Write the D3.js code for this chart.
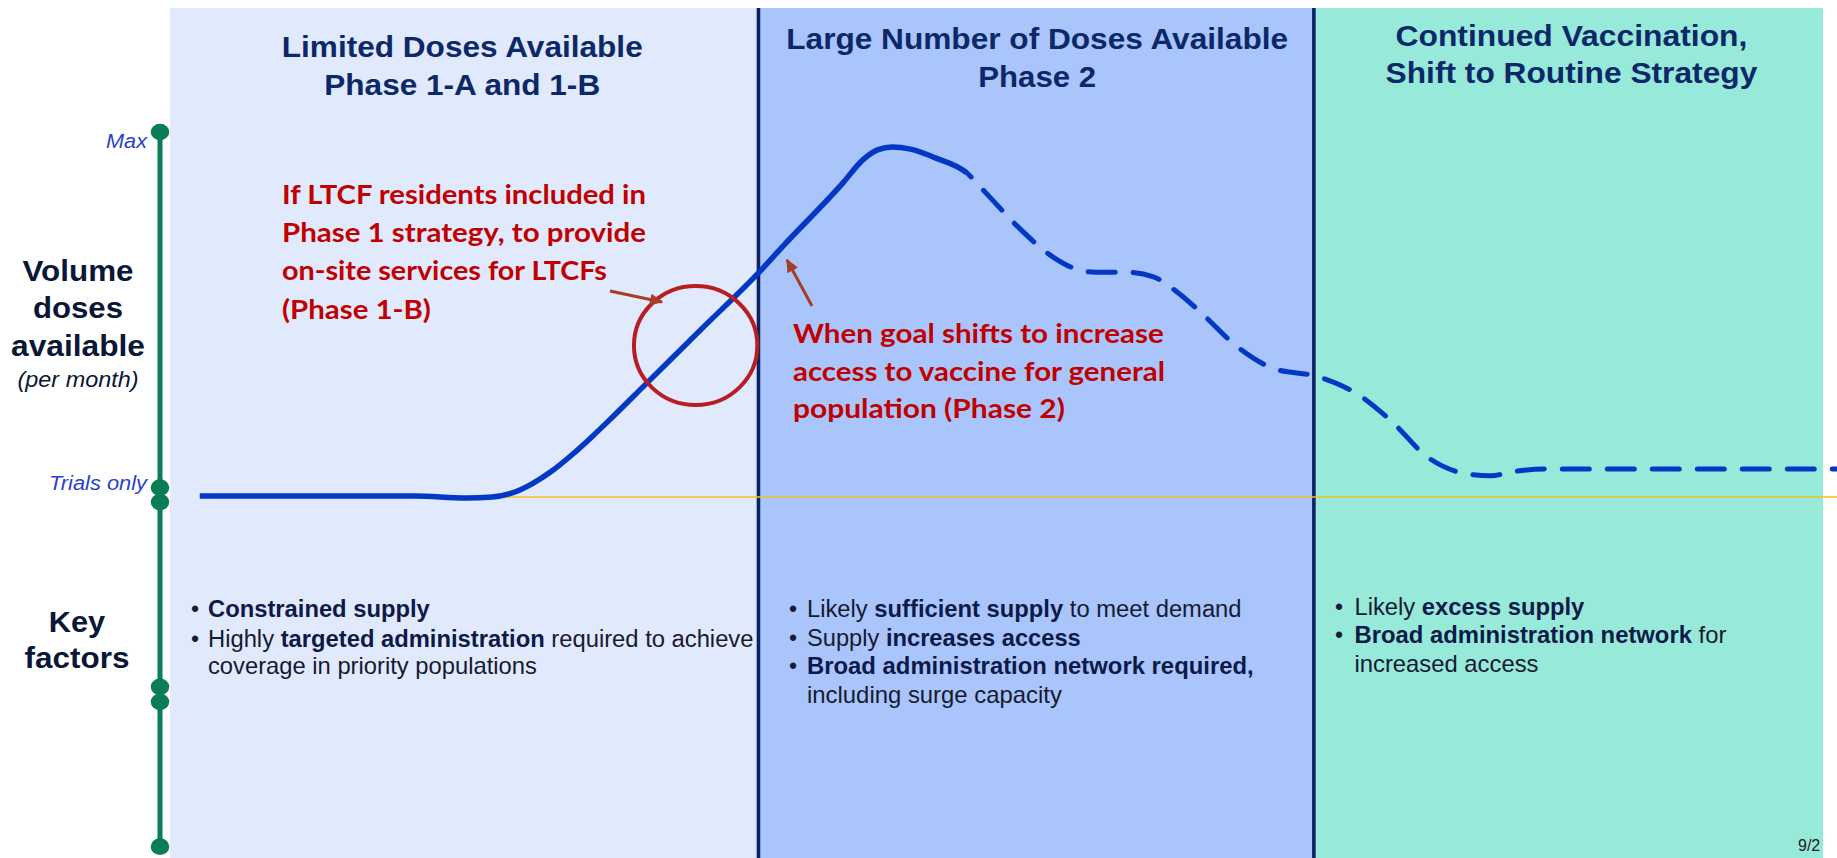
<!DOCTYPE html>
<html>
<head>
<meta charset="utf-8">
<script src="https://cdn.jsdelivr.net/npm/d3@7"></script>
<style>
html,body{margin:0;padding:0;background:#ffffff;overflow:hidden}
svg{display:block}
</style>
</head>
<body>
<svg id="chart" width="1837" height="858"></svg>
<script>
// ---------------- data ----------------
const phaseStarts = [0, 35.6, 69.2];
const phaseEnds   = [35.6, 69.2, 100];
const phaseTitleLine1 = ["Limited Doses Available", "Large Number of Doses Available", "Continued Vaccination,"];
const phaseTitleLine2 = ["Phase 1-A and 1-B", "Phase 2", "Shift to Routine Strategy"];

const yTickValues = [100, 0];
const yTickLabels = ["Max", "Trials only"];
const axisMarkerValues = [100, 2.6, -1.4, -52, -56.1, -95.8];

const curveTime   = [1.8, 14.8, 17.9, 19.5, 20.7, 21.9, 23.1, 24.3, 25.5, 26.7, 28.6, 32.1, 35.6, 37.1, 40.7, 41.9, 42.8, 43.7, 44.8, 46.3, 48.2,
                     49.3, 51.3, 53.4, 54.5, 56.0, 57.8, 59.5, 61.0, 62.4, 64.5, 66.7, 69.5, 71.9, 74.0, 76.0, 78.5, 79.9, 81.2, 83.2, 92.6, 101.3];
const curveVolume = [0.3, 0.3, -0.3, 0.0, 1.1, 3.6, 7.1, 11.5, 16.4, 21.6, 30.1, 45.8, 61.4, 68.8, 86.0, 92.3, 95.1, 95.9, 95.3, 92.9, 88.8,
                     83.6, 74.0, 65.8, 63.0, 61.6, 61.6, 60.3, 55.9, 50.4, 41.4, 35.3, 32.9, 28.0, 20.3, 11.2, 6.3, 5.8, 6.9, 7.7, 7.7, 7.7];
const solidUntilTime = 48.2;

const highlightTime = 31.8;
const highlightVolume = 41.5;

const leftLabelLines = ["Volume", "doses", "available", "(per month)"];
const keyLabelLines = ["Key", "factors"];

const note1Lines = ["If LTCF residents included in", "Phase 1 strategy, to provide", "on-site services for LTCFs", "(Phase 1-B)"];
const note2Lines = ["When goal shifts to increase", "access to vaccine for general", "population (Phase 2)"];

// bullet lines: [bulletShown, [[text, isBold], ...]]
const phase1Factors = [
  [true,  [["Constrained supply", 1]]],
  [true,  [["Highly ", 0], ["targeted administration", 1], [" required to achieve", 0]]],
  [false, [["coverage in priority populations", 0]]]
];
const phase2Factors = [
  [true,  [["Likely ", 0], ["sufficient supply", 1], [" to meet demand", 0]]],
  [true,  [["Supply ", 0], ["increases access", 1]]],
  [true,  [["Broad administration network required,", 1]]],
  [false, [["including surge capacity", 0]]]
];
const phase3Factors = [
  [true,  [["Likely ", 0], ["excess supply", 1]]],
  [true,  [["Broad administration network", 1], [" for", 0]]],
  [false, [["increased access", 0]]]
];
const pageLabel = "9/2";

// ---------------- layout / style ----------------
const W = 1837, H = 858, TOP = 8;
const panelColors = ["#E1E9FC", "#A9C5FC", "#97E9DA"];
const navy = "#0c2868";
const curveBlue = "#0238c4";
const green = "#0a7d55";
const red = "#c00000";
const arrowRed = "#a63d24";

const svg = d3.select("#chart");
const x = d3.scaleLinear().domain([0, 100]).range([170, 1823]);
const y = d3.scaleLinear().domain([0, 100]).range([497, 132]);

function fit(sel, target, ax) {
  sel.each(function () {
    const w = this.getComputedTextLength();
    if (w > 0) {
      const k = target / w;
      d3.select(this).attr("transform", `translate(${ax},0) scale(${k},1) translate(${-ax},0)`);
    }
  });
}

function draw() {
  const defs = svg.append("defs");
  defs.append("marker").attr("id", "arrowHead")
    .attr("viewBox", "0 0 10 10").attr("refX", 9).attr("refY", 5)
    .attr("markerWidth", 5).attr("markerHeight", 4.4).attr("orient", "auto")
    .attr("markerUnits", "strokeWidth")
    .append("path").attr("d", "M0,0.5 L10,5 L0,9.5 Z").attr("fill", arrowRed);
  defs.append("clipPath").attr("id", "dashClip")
    .append("rect").attr("x", x(solidUntilTime) - 1).attr("y", 0).attr("width", W).attr("height", H);

  // phase panels
  svg.append("g").selectAll("rect").data(phaseStarts).join("rect")
    .attr("x", d => x(d)).attr("y", TOP)
    .attr("width", (d, i) => x(phaseEnds[i]) - x(d)).attr("height", H - TOP)
    .attr("fill", (d, i) => panelColors[i]);

  // dividers
  svg.append("g").selectAll("line").data(phaseStarts.slice(1)).join("line")
    .attr("x1", d => x(d)).attr("x2", d => x(d)).attr("y1", TOP).attr("y2", H)
    .attr("stroke", "#0a2462").attr("stroke-width", 3.6);

  // phase titles
  const titleY1 = [57, 49, 46], titleY2 = [95, 87, 83];
  const titleW1 = [361, 502, 352], titleW2 = [276, 118, 372];
  const titleDx = [-2, 1, 3];
  const tg = svg.append("g").attr("font-family", "'Liberation Sans', Arial, sans-serif")
    .attr("font-weight", "bold").attr("font-size", 30).attr("fill", navy).attr("text-anchor", "middle");
  phaseStarts.forEach((s, i) => {
    const cx = (x(s) + x(phaseEnds[i])) / 2 + titleDx[i];
    fit(tg.append("text").attr("x", cx).attr("y", titleY1[i]).text(phaseTitleLine1[i]), titleW1[i], cx);
    fit(tg.append("text").attr("x", cx).attr("y", titleY2[i]).text(phaseTitleLine2[i]), titleW2[i], cx);
  });

  // trials-only baseline (yellow)
  svg.append("line").attr("x1", 200).attr("x2", W).attr("y1", y(0)).attr("y2", y(0))
    .attr("stroke", "#f2c11f").attr("stroke-width", 1.6);

  // green axis
  const ag = svg.append("g");
  ag.append("line").attr("x1", 160).attr("x2", 160)
    .attr("y1", y(axisMarkerValues[0])).attr("y2", y(axisMarkerValues[axisMarkerValues.length - 1]))
    .attr("stroke", green).attr("stroke-width", 5);
  ag.selectAll("ellipse").data(axisMarkerValues).join("ellipse")
    .attr("cx", 160).attr("cy", d => y(d)).attr("rx", 9.3).attr("ry", 8.3).attr("fill", green);

  // tick labels
  const tickDy = [16, -7], tickW = [41, 98];
  svg.append("g").selectAll("text").data(yTickValues).join("text")
    .attr("x", 147).attr("y", (d, i) => y(d) + tickDy[i])
    .attr("text-anchor", "end").attr("font-family", "'Liberation Sans', Arial, sans-serif")
    .attr("font-style", "italic").attr("font-size", 20).attr("fill", "#2b43c6")
    .text((d, i) => yTickLabels[i])
    .each(function (d, i) { fit(d3.select(this), tickW[i], 147); });

  // left labels
  const lg = svg.append("g").attr("font-family", "'Liberation Sans', Arial, sans-serif")
    .attr("fill", "#0b1736").attr("text-anchor", "middle");
  const leftY = [280.7, 317.7, 356, 386.7];
  const leftW = [111, 90, 134, 121];
  leftLabelLines.forEach((t, i) => {
    const el = lg.append("text").attr("x", 78).attr("y", leftY[i]).text(t)
      .attr("font-size", i < 3 ? 30 : 22).attr("font-weight", i < 3 ? "bold" : "normal")
      .attr("font-style", i < 3 ? "normal" : "italic");
    fit(el, leftW[i], 78);
  });
  const keyY = [631.7, 668.3], keyW = [56.5, 105];
  keyLabelLines.forEach((t, i) => {
    const el = lg.append("text").attr("x", 77).attr("y", keyY[i]).text(t)
      .attr("font-size", 30).attr("font-weight", "bold");
    fit(el, keyW[i], 77);
  });

  // curve
  const pts = curveTime.map((t, i) => [x(t), y(curveVolume[i])]);
  const lineGen = d3.line().curve(d3.curveMonotoneX);
  const dStr = lineGen(pts);
  const cg = svg.append("g").attr("fill", "none").attr("stroke", curveBlue);
  const dashed = cg.append("path").attr("d", dStr).attr("stroke-width", 5)
    .attr("stroke-linecap", "round").attr("clip-path", "url(#dashClip)");
  const solid = cg.append("path").attr("d", dStr).attr("stroke-width", 5.5).attr("stroke-linecap", "butt");
  const node = solid.node();
  const total = node.getTotalLength();
  const xs = x(solidUntilTime);
  let lo = 0, hi = total;
  for (let k = 0; k < 40; k++) {
    const mid = (lo + hi) / 2;
    if (node.getPointAtLength(mid).x < xs) lo = mid; else hi = mid;
  }
  const L1 = lo;
  solid.attr("stroke-dasharray", `${L1} ${total + 50}`);
  const off = (((27 - L1 - 6) % 45) + 45) % 45;
  dashed.attr("stroke-dasharray", "27 18").attr("stroke-dashoffset", off);

  // highlight ellipse
  svg.append("ellipse").attr("cx", x(highlightTime)).attr("cy", y(highlightVolume))
    .attr("rx", 61.7).attr("ry", 59.5).attr("fill", "none")
    .attr("stroke", "#b81d24").attr("stroke-width", 4);

  // arrows
  const arrows = [[610, 291, 662, 302], [812, 306, 787, 260]];
  svg.append("g").selectAll("line").data(arrows).join("line")
    .attr("x1", d => d[0]).attr("y1", d => d[1]).attr("x2", d => d[2]).attr("y2", d => d[3])
    .attr("stroke", arrowRed).attr("stroke-width", 3).attr("marker-end", "url(#arrowHead)");

  // red notes
  const ng = svg.append("g").attr("font-family", "Lato, 'Open Sans', sans-serif")
    .attr("font-weight", "bold").attr("font-size", 27).attr("fill", red);
  const n1Y = [204, 242, 280, 319], n1W = [364, 364, 325, 149];
  note1Lines.forEach((t, i) => fit(ng.append("text").attr("x", 282).attr("y", n1Y[i]).text(t), n1W[i], 282));
  const n2Y = [343, 381.5, 418.5], n2W = [371, 372, 272];
  note2Lines.forEach((t, i) => fit(ng.append("text").attr("x", 793).attr("y", n2Y[i]).text(t), n2W[i], 793));

  // key factor bullets
  const bg = svg.append("g").attr("font-family", "'Liberation Sans', Arial, sans-serif").attr("font-size", 23);
  function bullets(list, bx, tx, ys, ws) {
    list.forEach((row, i) => {
      if (row[0]) bg.append("text").attr("x", bx).attr("y", ys[i]).attr("text-anchor", "middle")
        .attr("fill", "#141a38").text("\u2022");
      const t = bg.append("text").attr("x", tx).attr("y", ys[i]);
      row[1].forEach(p => t.append("tspan").text(p[0])
        .attr("font-weight", p[1] ? "bold" : "normal")
        .attr("fill", p[1] ? "#0d1a48" : "#161a30"));
      fit(t, ws[i], tx);
    });
  }
  bullets(phase1Factors, 195, 208, [616.7, 646.7, 674], [222, 546, 329]);
  bullets(phase2Factors, 793, 807, [616.7, 646, 674, 702.7], [435, 274, 447, 255]);
  bullets(phase3Factors, 1339, 1354.5, [615, 643, 671.7], [230, 372, 184]);

  // page number fragment
  svg.append("text").attr("x", 1798).attr("y", 851).attr("font-family", "'Liberation Sans', Arial, sans-serif")
    .attr("font-size", 16).attr("fill", "#222").text(pageLabel);
}

if (document.fonts && document.fonts.ready) document.fonts.ready.then(draw); else draw();
</script>
</body>
</html>
